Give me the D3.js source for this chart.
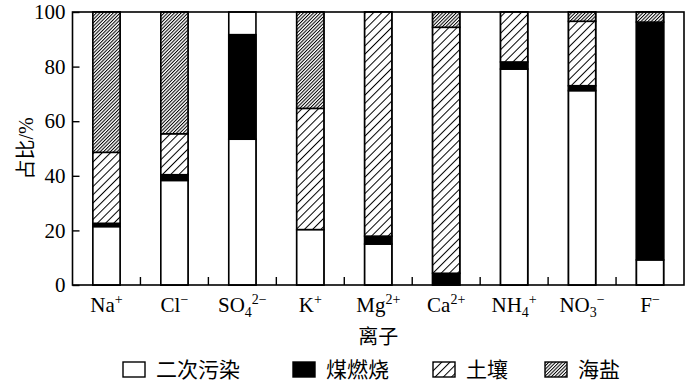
<!DOCTYPE html>
<html><head><meta charset="utf-8">
<script src="https://cdn.jsdelivr.net/npm/d3@7"></script>
<style>html,body{margin:0;padding:0;background:#fff;}</style>
</head><body>
<svg id="c" width="700" height="385"></svg>
<script>
const categories = ["Na+", "Cl−", "SO42−", "K+", "Mg2+", "Ca2+", "NH4+", "NO3−", "F−"];
// label pieces: [text, kind] kind: n normal, p superscript, b subscript
const catLabels = [
  [["Na","n"],["+","p"]],
  [["Cl","n"],["−","p"]],
  [["SO","n"],["4","b"],["2−","p"]],
  [["K","n"],["+","p"]],
  [["Mg","n"],["2+","p"]],
  [["Ca","n"],["2+","p"]],
  [["NH","n"],["4","b"],["+","p"]],
  [["NO","n"],["3","b"],["−","p"]],
  [["F","n"],["−","p"]]
];
const seriesNames = ["二次污染", "煤燃烧", "土壤", "海盐"];
const secondary = [21.4, 38.3, 53.4, 20.3, 15.0, 0, 79.1, 71.2, 9.2];
const coal      = [1.2, 2.1, 38.3, 0, 2.9, 4.3, 2.6, 1.8, 87.1];
const soil      = [26.0, 15.0, 0, 44.4, 82.1, 90.1, 18.3, 23.6, 0];
const seaSalt   = [51.4, 44.6, 0, 35.3, 0, 5.6, 0, 3.4, 3.7];
const yTicks = [0, 20, 40, 60, 80, 100];
const yLabel = "占比/%";
const xLabel = "离子";

const svg = d3.select("#c");
const m = {l: 72.5, r: 16, t: 12, b: 100};
const W = 700, H = 385;
const x0 = m.l, x1 = W - m.r, y0 = m.t, y1 = H - m.b;

const defs = svg.append("defs");
function hatch(id, step, lw) {
  const p = defs.append("pattern").attr("id", id).attr("patternUnits", "userSpaceOnUse")
    .attr("width", step).attr("height", step).attr("patternTransform", "rotate(45)");
  p.append("rect").attr("width", step).attr("height", step).attr("fill", "#fff");
  p.append("line").attr("x1", 0.5).attr("y1", 0).attr("x2", 0.5).attr("y2", step)
    .attr("stroke", "#000").attr("stroke-width", lw);
}
hatch("soil", 5.8, 1);
hatch("sea", 2.4, 1);
const fills = ["#fff", "#000", "url(#soil)", "url(#sea)"];

const x = d3.scaleBand().domain(categories).range([x0, x1]).paddingInner(0.6).paddingOuter(0.3);
const xb = d3.scaleBand().domain(categories).range([x0, x1]).padding(0);
const y = d3.scaleLinear().domain([0, 100]).range([y1, y0]);

const table = categories.map((c, i) => ({cat: c, s0: secondary[i], s1: coal[i], s2: soil[i], s3: seaSalt[i]}));
const stack = d3.stack().keys(["s0", "s1", "s2", "s3"]);
const layers = stack(table);

const serif = "'Liberation Serif', 'Times New Roman', serif";
const cjk = "'Liberation Serif', 'Noto Sans CJK SC', sans-serif";

// bar outlines full height
svg.append("g").selectAll("rect").data(categories).join("rect")
  .attr("x", d => x(d)).attr("width", x.bandwidth())
  .attr("y", y(100)).attr("height", y(0) - y(100))
  .attr("fill", "#fff").attr("stroke", "#000").attr("stroke-width", 1.6);

layers.forEach((L, k) => {
  svg.append("g").selectAll("rect").data(L.filter(d => d[1] - d[0] > 0)).join("rect")
    .attr("x", d => x(d.data.cat)).attr("width", x.bandwidth())
    .attr("y", d => y(d[1])).attr("height", d => y(d[0]) - y(d[1]))
    .attr("fill", fills[k]).attr("stroke", "#000").attr("stroke-width", 1.6);
});

// frame
svg.append("rect").attr("x", x0).attr("y", y0).attr("width", x1 - x0).attr("height", y1 - y0)
  .attr("fill", "none").attr("stroke", "#000").attr("stroke-width", 1.6);

// y axis ticks (inward)
const ya = svg.append("g").attr("transform", `translate(${x0},0)`)
  .call(d3.axisLeft(y).tickValues(yTicks).tickSize(-7).tickPadding(8).tickFormat(d3.format("d")));
ya.select(".domain").remove();
ya.selectAll("line").attr("stroke", "#000").attr("stroke-width", 1.4);
ya.selectAll("text").attr("font-family", serif).attr("font-size", 21).attr("fill", "#000")
  .attr("x", -7);

// x boundary ticks (inward)
svg.append("g").selectAll("line").data(categories.slice(1)).join("line")
  .attr("x1", d => xb(d)).attr("x2", d => xb(d)).attr("y1", y1).attr("y2", y1 - 8)
  .attr("stroke", "#000").attr("stroke-width", 1.4);

// x labels
const xl = svg.append("g").selectAll("text").data(categories).join("text")
  .attr("x", d => x(d) + x.bandwidth() / 2).attr("y", y1 + 27)
  .attr("text-anchor", "middle").attr("font-family", serif).attr("font-size", 21).attr("fill", "#000");
xl.each(function(d, i) {
  const t = d3.select(this);
  let cur = 0;
  catLabels[i].forEach(([txt, kind]) => {
    const target = kind === "p" ? -8 : kind === "b" ? 5 : 0;
    t.append("tspan").attr("dy", target - cur).attr("font-size", kind === "n" ? 21 : 14).text(txt);
    cur = target;
  });
});

// axis titles
svg.append("text").attr("x", (x0 + x1) / 2).attr("y", 344).attr("text-anchor", "middle")
  .attr("font-family", cjk).attr("font-size", 20).attr("fill", "#000").text(xLabel);
svg.append("text").attr("transform", `translate(33,${(y0 + y1) / 2}) rotate(-90)`)
  .attr("text-anchor", "middle").attr("font-family", cjk).attr("font-size", 20).attr("fill", "#000").text(yLabel);

// legend
const legX = [123, 293, 433, 545];
const lg = svg.append("g").selectAll("g").data(seriesNames).join("g")
  .attr("transform", (d, i) => `translate(${legX[i]},362)`);
lg.append("rect").attr("width", 22).attr("height", 15).attr("fill", (d, i) => fills[i])
  .attr("stroke", "#000").attr("stroke-width", 1.4);
lg.append("text").attr("x", 33).attr("y", 15).attr("font-family", cjk).attr("font-size", 21)
  .attr("fill", "#000").text(d => d);
</script>
</body></html>
